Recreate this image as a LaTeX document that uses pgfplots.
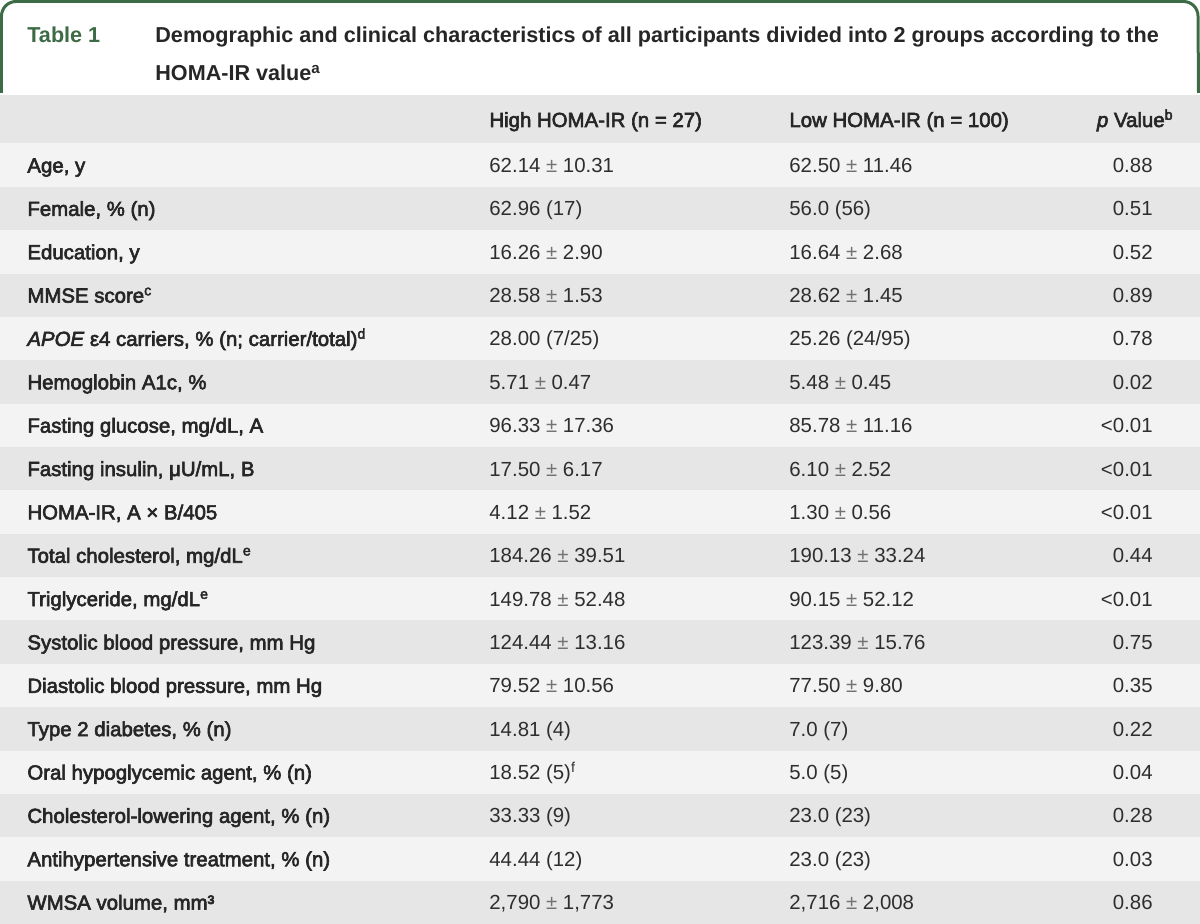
\documentclass[border=0pt]{standalone}
\usepackage{pgfplots}
\pgfplotsset{compat=1.18}
\usepackage{fontspec}
\setmainfont{Liberation Sans}
\newfontfamily\lblfont[FakeBold=3]{Liberation Sans}
\definecolor{hdrgreen}{HTML}{3D6B45}
\definecolor{rowdark}{HTML}{E6E6E6}
\definecolor{rowlight}{HTML}{F3F3F3}
\definecolor{txt}{HTML}{2E2E2E}
\definecolor{lbl}{HTML}{262626}
\newcommand\PM{\textcolor{black!55}{±}}
% #1 top y, #2 fill colour, #3 label, #4 high, #5 low, #6 p
\newcommand\trow[6]{%
  \fill[#2] (axis cs:0,#1) rectangle (axis cs:1200,{#1+43.36});
  \node[anchor=base west,text=lbl,font=\lblfont\fontsize{10.2}{12}\selectfont,inner sep=0pt] at (axis cs:27,{#1+29.0}) {#3};
  \node[anchor=base west,text=txt,font=\fontsize{10.2}{12}\selectfont,inner sep=0pt] at (axis cs:489,{#1+29.0}) {#4};
  \node[anchor=base west,text=txt,font=\fontsize{10.2}{12}\selectfont,inner sep=0pt] at (axis cs:789,{#1+29.0}) {#5};
  \node[anchor=base east,text=txt,font=\fontsize{10.2}{12}\selectfont,inner sep=0pt] at (axis cs:1153,{#1+29.0}) {#6};
}
\begin{document}
\begin{tikzpicture}
\begin{axis}[
  width=600pt, height=462pt, scale only axis,
  xmin=0, xmax=1200, ymin=0, ymax=924, y dir=reverse,
  hide axis, clip=false]
\path (axis cs:0,0) rectangle (axis cs:1200,924);
% header box
\draw[hdrgreen, line width=1.5pt] (axis cs:1.5,93) -- (axis cs:1.5,16)
   arc[start angle=180, end angle=90, radius=7.25pt] -- (axis cs:1183.5,1.5)
   arc[start angle=90, end angle=0, radius=7.25pt] -- (axis cs:1198.5,93);
\node[anchor=base west,text=hdrgreen,font=\bfseries\fontsize{10.8}{13}\selectfont,inner sep=0pt] at (axis cs:27,43) {Table 1};
\node[anchor=base west,text=lbl,font=\bfseries\fontsize{10.8}{13}\selectfont,inner sep=0pt] at (axis cs:155,43) {Demographic and clinical characteristics of all participants divided into 2 groups according to the};
\node[anchor=base west,text=lbl,font=\bfseries\fontsize{10.8}{13}\selectfont,inner sep=0pt] at (axis cs:155,81) {HOMA-IR value\textsuperscript{a}};
% column header row
\fill[rowdark] (axis cs:0,95) rectangle (axis cs:1200,143.5);
\node[anchor=base west,text=lbl,font=\lblfont\fontsize{10.2}{12}\selectfont,inner sep=0pt] at (axis cs:489,127) {High HOMA-IR (n = 27)};
\node[anchor=base west,text=lbl,font=\lblfont\fontsize{10.2}{12}\selectfont,inner sep=0pt] at (axis cs:789,127) {Low HOMA-IR (n = 100)};
\node[anchor=base east,text=lbl,font=\lblfont\fontsize{10.2}{12}\selectfont,inner sep=0pt] at (axis cs:1174,127) {\textit{p} Value\textsuperscript{b}};
% data rows
\trow{143.50}{rowlight}{Age, y}{62.14 \PM\ 10.31}{62.50 \PM\ 11.46}{0.88}
\trow{186.86}{rowdark}{Female, \% (n)}{62.96 (17)}{56.0 (56)}{0.51}
\trow{230.22}{rowlight}{Education, y}{16.26 \PM\ 2.90}{16.64 \PM\ 2.68}{0.52}
\trow{273.58}{rowdark}{MMSE score\textsuperscript{c}}{28.58 \PM\ 1.53}{28.62 \PM\ 1.45}{0.89}
\trow{316.94}{rowlight}{\textit{APOE} ε4 carriers, \% (n; carrier/total)\textsuperscript{d}}{28.00 (7/25)}{25.26 (24/95)}{0.78}
\trow{360.30}{rowdark}{Hemoglobin A1c, \%}{5.71 \PM\ 0.47}{5.48 \PM\ 0.45}{0.02}
\trow{403.66}{rowlight}{Fasting glucose, mg/dL, A}{96.33 \PM\ 17.36}{85.78 \PM\ 11.16}{<0.01}
\trow{447.02}{rowdark}{Fasting insulin, μU/mL, B}{17.50 \PM\ 6.17}{6.10 \PM\ 2.52}{<0.01}
\trow{490.38}{rowlight}{HOMA-IR, A × B/405}{4.12 \PM\ 1.52}{1.30 \PM\ 0.56}{<0.01}
\trow{533.74}{rowdark}{Total cholesterol, mg/dL\textsuperscript{e}}{184.26 \PM\ 39.51}{190.13 \PM\ 33.24}{0.44}
\trow{577.10}{rowlight}{Triglyceride, mg/dL\textsuperscript{e}}{149.78 \PM\ 52.48}{90.15 \PM\ 52.12}{<0.01}
\trow{620.46}{rowdark}{Systolic blood pressure, mm Hg}{124.44 \PM\ 13.16}{123.39 \PM\ 15.76}{0.75}
\trow{663.82}{rowlight}{Diastolic blood pressure, mm Hg}{79.52 \PM\ 10.56}{77.50 \PM\ 9.80}{0.35}
\trow{707.18}{rowdark}{Type 2 diabetes, \% (n)}{14.81 (4)}{7.0 (7)}{0.22}
\trow{750.54}{rowlight}{Oral hypoglycemic agent, \% (n)}{18.52 (5)\textsuperscript{f}}{5.0 (5)}{0.04}
\trow{793.90}{rowdark}{Cholesterol-lowering agent, \% (n)}{33.33 (9)}{23.0 (23)}{0.28}
\trow{837.26}{rowlight}{Antihypertensive treatment, \% (n)}{44.44 (12)}{23.0 (23)}{0.03}
\trow{880.62}{rowdark}{WMSA volume, mm³}{2,790 \PM\ 1,773}{2,716 \PM\ 2,008}{0.86}
\end{axis}
\end{tikzpicture}
\end{document}
